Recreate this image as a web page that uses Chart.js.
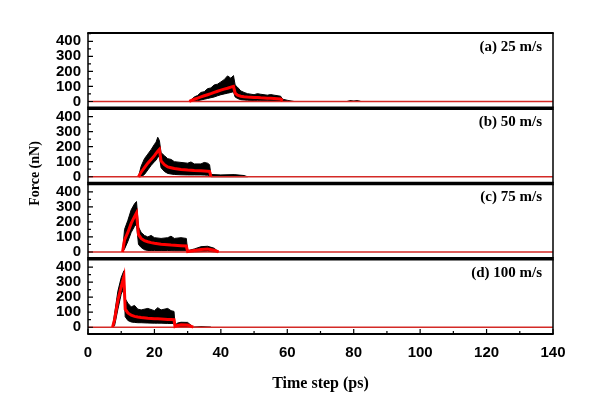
<!DOCTYPE html>
<html><head><meta charset="utf-8">
<script src="https://cdn.jsdelivr.net/npm/chart.js@4.4.0/dist/chart.umd.min.js"></script>
<style>html,body{margin:0;padding:0;background:#fff;}#wrap{width:600px;height:414px;position:relative;}</style>
</head><body><div id="wrap"><canvas id="c" width="600" height="414"></canvas></div>
<script>
const panelLabels = ['(a) 25 m/s', '(b) 50 m/s', '(c) 75 m/s', '(d) 100 m/s'];
const xTicks = [0, 20, 40, 60, 80, 100, 120, 140];
const xMinorTicks = [10, 30, 50, 70, 90, 110, 130];
const yTicks = [0, 100, 200, 300, 400];
const yMinorTicks = [50, 150, 250, 350, 450];

// (a) 25 m/s
const tA    = [30.5, 32, 33, 34, 35, 36, 37, 38, 39, 40, 41, 42, 43, 43.8, 44.3, 45, 46, 47, 48, 50, 51, 52, 54, 55, 56, 58, 58.6, 60, 62];
const upA   = [0, 30, 40, 60, 65, 85, 90, 110, 115, 130, 145, 170, 155, 172, 110, 95, 70, 60, 52, 45, 52, 48, 42, 46, 42, 35, 15, 8, 0];
const loA   = [0, 0, 5, 10, 15, 20, 25, 30, 38, 45, 50, 55, 60, 65, 30, 20, 12, 10, 8, 6, 6, 5, 5, 4, 4, 2, 0, 0, 0];
const meanA = [0, 15, 22, 30, 38, 45, 52, 60, 68, 75, 82, 88, 95, 100, 55, 42, 35, 32, 30, 27, 26, 24, 22, 21, 20, 16, 5, null, null];
const blipTA = [78, 79, 80, 81, 82, 84];
const blipVA = [0, 6, 2, 5, 1, 0];
// (b) 50 m/s
const tB    = [15.2, 16, 17, 18, 19, 20, 20.5, 21, 21.5, 22, 23, 24, 25, 26, 28, 30, 31, 32, 34, 35, 36, 36.6, 37, 40, 44, 47, 48];
const upB   = [0, 70, 120, 150, 180, 215, 230, 262, 240, 160, 140, 120, 115, 100, 95, 90, 98, 85, 85, 95, 90, 80, 15, 12, 14, 8, 0];
const loB   = [0, 0, 15, 45, 75, 100, 110, 130, 135, 60, 35, 22, 18, 15, 13, 12, 12, 12, 12, 11, 10, 8, 0, 0, 0, 0, 0];
const meanB = [0, 30, 60, 90, 115, 140, 155, 170, 182, 105, 80, 65, 60, 55, 48, 44, 43, 41, 39, 38, 37, 36, 3, null, null, null, null];
// (c) 75 m/s
const tC    = [10.4, 11, 12, 13, 14, 14.6, 15.2, 16, 17, 18, 19, 20, 22, 24, 25, 26, 28, 29.6, 30, 32, 34, 36, 38, 39.3];
const upC   = [0, 150, 210, 280, 320, 335, 165, 130, 110, 100, 110, 95, 90, 95, 105, 90, 95, 90, 8, 20, 35, 38, 25, 0];
const loC   = [0, 20, 70, 130, 170, 185, 50, 30, 15, 10, 10, 10, 10, 10, 9, 8, 8, 8, 0, 0, 2, 5, 0, 0];
const meanC = [0, 80, 130, 190, 235, 260, 115, 90, 75, 68, 62, 58, 52, 48, 46, 45, 42, 40, 3, 10, 16, 20, 12, 0];
// (d) 100 m/s
const tD    = [7.4, 8, 9, 10, 10.8, 11.2, 12, 13, 14, 15, 16, 18, 20, 21, 22, 24, 25, 25.9, 26.2, 27, 28, 30, 31.7, 34, 37];
const upD   = [0, 90, 240, 330, 375, 190, 160, 135, 145, 120, 115, 125, 110, 130, 115, 125, 110, 105, 15, 28, 33, 32, 0, 4, 0];
const loD   = [0, 10, 120, 220, 260, 70, 45, 35, 32, 30, 30, 28, 27, 27, 27, 25, 25, 25, 0, 2, 5, 5, 0, 0, 0];
const meanD = [0, 50, 180, 270, 335, 120, 95, 80, 72, 68, 65, 60, 57, 56, 55, 52, 51, 50, 5, 12, 17, 15, 0, null, null];

const zeroT = [0, 140];
const zeroV = [0, 0];

const panels = [
  {id: 'ya', t: tA, up: upA, lo: loA, mean: meanA},
  {id: 'yb', t: tB, up: upB, lo: loB, mean: meanB},
  {id: 'yc', t: tC, up: upC, lo: loC, mean: meanC},
  {id: 'yd', t: tD, up: upD, lo: loD, mean: meanD}
];
function pts(t, v) { return t.map((x, i) => ({x: x, y: v[i]})); }

const tickFont = {family: 'Liberation Sans', weight: 'bold', size: 15};
const datasets = [];
panels.forEach(p => {
  datasets.push({data: pts(p.t, p.up), yAxisID: p.id, borderColor: '#000', backgroundColor: '#000', borderWidth: 1, pointRadius: 0, fill: '+1', order: 2});
  datasets.push({data: pts(p.t, p.lo), yAxisID: p.id, borderColor: '#000', borderWidth: 1, pointRadius: 0, fill: false, order: 2});
  datasets.push({data: pts(p.t, p.mean), yAxisID: p.id, borderColor: '#ff0000', borderWidth: 3, pointRadius: 0, fill: false, spanGaps: false, order: 0});
});
panels.forEach(p => {
  datasets.push({data: pts(zeroT, zeroV), yAxisID: p.id, borderColor: '#d42a26', borderWidth: 1.4, pointRadius: 0, fill: false, order: 1});
});
datasets.push({data: pts(blipTA, blipVA), yAxisID: 'ya', borderColor: '#000', borderWidth: 1.2, pointRadius: 0, fill: false, order: 2});

const scales = {
  x: {
    type: 'linear', min: 0, max: 140, position: 'bottom',
    grid: {display: false, drawTicks: false}, border: {display: false},
    afterBuildTicks: s => { s.ticks = xTicks.map(v => ({value: v})); },
    ticks: {padding: 10, font: tickFont, color: '#000', maxRotation: 0, autoSkip: false},
    title: {display: true, text: 'Time step (ps)', color: '#000', font: {family: 'Liberation Serif', weight: 'bold', size: 16}, padding: {top: 0, bottom: 21}},
    afterFit: s => { s.height = 80; }
  }
};
panels.forEach((p, i) => {
  scales[p.id] = {
    type: 'linear', position: 'left', stack: 'panels', stackWeight: 1, weight: 4 - i,
    min: -45, max: 455,
    grid: {display: false, drawTicks: false, drawOnChartArea: false}, border: {display: false},
    afterBuildTicks: s => { s.ticks = yTicks.map(v => ({value: v})); },
    ticks: {padding: 7, font: tickFont, color: '#000', autoSkip: false},
    afterFit: s => { s.width = 88; }
  };
});

const framePlugin = {
  id: 'frames',
  afterDraw(chart) {
    const ctx = chart.ctx, ca = chart.chartArea, xs = chart.scales.x;
    ctx.save();
    ctx.strokeStyle = '#000';
    ctx.fillStyle = '#000';
    panels.forEach((p, i) => {
      const s = chart.scales[p.id];
      ctx.lineWidth = 1.5;
      ctx.beginPath();
      ctx.moveTo(ca.left, s.top); ctx.lineTo(ca.left, s.bottom);
      ctx.moveTo(ca.right, s.top); ctx.lineTo(ca.right, s.bottom);
      ctx.stroke();
      ctx.lineWidth = 1.2;
      ctx.beginPath();
      yTicks.forEach(v => { const y = s.getPixelForValue(v); ctx.moveTo(ca.left, y); ctx.lineTo(ca.left + 5, y); });
      yMinorTicks.forEach(v => { if (v <= s.max) { const y = s.getPixelForValue(v); ctx.moveTo(ca.left, y); ctx.lineTo(ca.left + 3, y); } });
      ctx.stroke();
      ctx.font = 'bold 15px "Liberation Serif"';
      ctx.textAlign = 'right';
      ctx.textBaseline = 'middle';
      ctx.fillText(panelLabels[i], ca.right - 11, s.top + 14);
      ctx.lineWidth = i === 0 ? 2 : 3.5;
      ctx.beginPath(); ctx.moveTo(ca.left - 0.75, s.top); ctx.lineTo(ca.right + 0.75, s.top); ctx.stroke();
    });
    const last = chart.scales[panels[panels.length - 1].id];
    ctx.lineWidth = 2;
    ctx.beginPath(); ctx.moveTo(ca.left - 0.75, last.bottom); ctx.lineTo(ca.right + 0.75, last.bottom); ctx.stroke();
    ctx.lineWidth = 1.2;
    ctx.beginPath();
    xTicks.forEach(v => { const x = xs.getPixelForValue(v); ctx.moveTo(x, last.bottom); ctx.lineTo(x, last.bottom - 5); });
    xMinorTicks.forEach(v => { const x = xs.getPixelForValue(v); ctx.moveTo(x, last.bottom); ctx.lineTo(x, last.bottom - 3); });
    ctx.stroke();
    ctx.save();
    ctx.translate(35, (ca.top + ca.bottom) / 2 - 10);
    ctx.rotate(-Math.PI / 2);
    ctx.font = 'bold 14px "Liberation Serif"';
    ctx.textAlign = 'center';
    ctx.textBaseline = 'middle';
    ctx.fillText('Force (nN)', 0, 0);
    ctx.restore();
    ctx.restore();
  }
};

new Chart(document.getElementById('c'), {
  type: 'line',
  data: {datasets: datasets},
  options: {
    responsive: false, animation: false,
    layout: {padding: {left: 0, right: 47, top: 33, bottom: 0}},
    plugins: {legend: {display: false}, tooltip: {enabled: false}},
    elements: {line: {tension: 0}},
    scales: scales
  },
  plugins: [framePlugin]
});
</script></body></html>
